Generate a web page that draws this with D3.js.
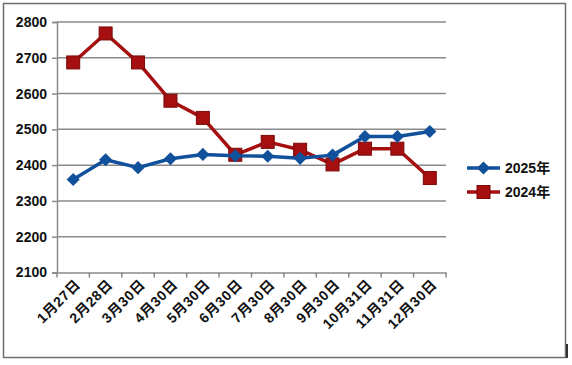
<!DOCTYPE html>
<html>
<head>
<meta charset="utf-8">
<script src="https://cdn.jsdelivr.net/npm/d3@7"></script>
<style>
  body { margin: 0; background: #fff; }
  text { font-family: "Liberation Sans", "Noto Sans CJK SC", sans-serif; fill: #111; }
</style>
</head>
<body>
<svg id="chart" width="572" height="365"></svg>
<script>
// chart data
var categories = ["1月27日", "2月28日", "3月30日", "4月30日", "5月30日", "6月30日",
  "7月30日", "8月30日", "9月30日", "10月31日", "11月31日", "12月30日"];
var values2025 = [2360, 2415, 2393, 2418, 2430, 2426, 2425, 2419, 2428, 2480, 2480, 2494];
var values2024 = [2687, 2768, 2687, 2580, 2532, 2429, 2465, 2443, 2402, 2446, 2446, 2364];
var yTicks = [2100, 2200, 2300, 2400, 2500, 2600, 2700, 2800];

var blue = "#11519c", red = "#a50f0f", redEdge = "#7a0a0a";

var svg = d3.select("#chart");

// outer frame
svg.append("rect")
  .attr("x", 3.5).attr("y", 3.5)
  .attr("width", 562).attr("height", 354)
  .attr("fill", "none").attr("stroke", "#6e6e6e").attr("stroke-width", 1.5);
svg.append("rect")
  .attr("x", 566).attr("y", 344).attr("width", 2).attr("height", 14)
  .attr("fill", "#333");

var plotLeft = 57, plotRight = 446, plotTop = 22, plotBottom = 272.5;

var x = d3.scaleBand().domain(categories).range([plotLeft, plotRight]);
var y = d3.scaleLinear().domain([2100, 2800]).range([plotBottom, plotTop]);

// gridlines
svg.append("g").selectAll("line")
  .data(yTicks.slice(1))
  .join("line")
  .attr("x1", plotLeft).attr("x2", plotRight)
  .attr("y1", function(d) { return y(d); })
  .attr("y2", function(d) { return y(d); })
  .attr("stroke", "#8a8a8a").attr("stroke-width", 1.5);

// y axis
var yAxis = svg.append("g")
  .attr("transform", "translate(" + plotLeft + ",0)")
  .call(d3.axisLeft(y).tickValues(yTicks).tickSize(5).tickPadding(5).tickFormat(d3.format("d")));
yAxis.select(".domain").attr("stroke", "#8a8a8a").attr("stroke-width", 1.5);
yAxis.selectAll(".tick line").attr("stroke", "#8a8a8a").attr("stroke-width", 1.5);
yAxis.selectAll(".tick text")
  .style("font-size", "14px").style("font-weight", "bold").attr("fill", "#111");

// x axis
var xAxis = svg.append("g")
  .attr("transform", "translate(0," + plotBottom + ")")
  .call(d3.axisBottom(x).tickSize(0).tickFormat(""));
xAxis.select(".domain").attr("stroke", "#8a8a8a").attr("stroke-width", 1.5);

svg.append("g").selectAll("line")
  .data(d3.range(categories.length + 1))
  .join("line")
  .attr("x1", function(i) { return plotLeft + i * x.step(); })
  .attr("x2", function(i) { return plotLeft + i * x.step(); })
  .attr("y1", plotBottom).attr("y2", plotBottom + 5)
  .attr("stroke", "#8a8a8a").attr("stroke-width", 1.5);

svg.append("g").selectAll("text")
  .data(categories)
  .join("text")
  .attr("transform", function(d) {
    return "translate(" + (x(d) + x.bandwidth() / 2 + 8) + "," + (plotBottom + 13) + ") rotate(-45)";
  })
  .attr("text-anchor", "end")
  .style("font-size", "14px")
  .style("font-weight", "bold")
  .style("letter-spacing", "0.6px")
  .text(function(d) { return d; });

var line = d3.line()
  .x(function(d, i) { return x(categories[i]) + x.bandwidth() / 2; })
  .y(function(d) { return y(d); });

// 2024 series
svg.append("path").datum(values2024)
  .attr("d", line).attr("fill", "none")
  .attr("stroke", red).attr("stroke-width", 3.5).attr("stroke-linejoin", "round");
svg.append("g").selectAll("rect")
  .data(values2024)
  .join("rect")
  .attr("x", function(d, i) { return x(categories[i]) + x.bandwidth() / 2 - 6.5; })
  .attr("y", function(d) { return y(d) - 6.5; })
  .attr("width", 13).attr("height", 13)
  .attr("fill", red).attr("stroke", redEdge).attr("stroke-width", 1);

// 2025 series
var diamond = d3.symbol().type(d3.symbolDiamond2).size(110);
svg.append("path").datum(values2025)
  .attr("d", line).attr("fill", "none")
  .attr("stroke", blue).attr("stroke-width", 3.5).attr("stroke-linejoin", "round");
svg.append("g").selectAll("path")
  .data(values2025)
  .join("path")
  .attr("d", diamond)
  .attr("transform", function(d, i) {
    return "translate(" + (x(categories[i]) + x.bandwidth() / 2) + "," + y(d) + ")";
  })
  .attr("fill", blue);

// legend
var legend = svg.append("g");
var legendItems = [
  { name: "2025年", color: blue, shape: "diamond", y: 168 },
  { name: "2024年", color: red, shape: "square", y: 192 }
];
legendItems.forEach(function(it) {
  legend.append("line")
    .attr("x1", 467).attr("x2", 500)
    .attr("y1", it.y).attr("y2", it.y)
    .attr("stroke", it.color).attr("stroke-width", 3.5);
  if (it.shape === "diamond") {
    legend.append("path").attr("d", diamond)
      .attr("transform", "translate(483.5," + it.y + ")")
      .attr("fill", it.color);
  } else {
    legend.append("rect")
      .attr("x", 477).attr("y", it.y - 6.5)
      .attr("width", 13).attr("height", 13)
      .attr("fill", it.color).attr("stroke", redEdge);
  }
  legend.append("text")
    .attr("x", 505).attr("y", it.y + 5)
    .style("font-size", "14px")
    .style("font-weight", "bold")
    .text(it.name);
});
</script>
</body>
</html>
